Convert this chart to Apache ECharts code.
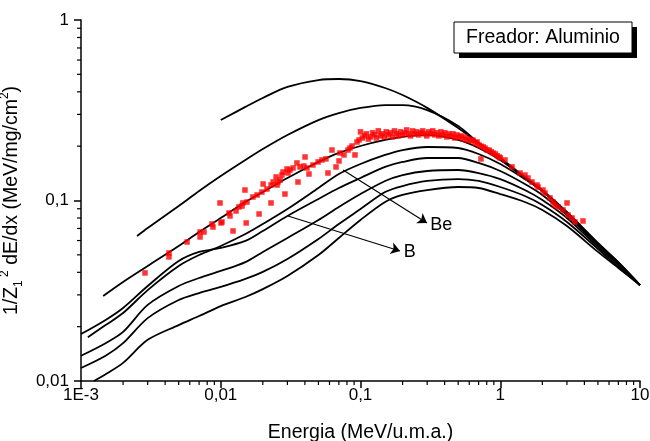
<!DOCTYPE html>
<html><head><meta charset="utf-8">
<script src="https://cdn.jsdelivr.net/npm/echarts@6/dist/echarts.min.js"></script>
<style>html,body{margin:0;padding:0;background:#fff}#c{width:650px;height:441px}</style>
</head><body><div id="c"></div>
<script>
// ---- axis ticks ----
const xTickLabels = ['1E-3', '0,01', '0,1', '1', '10'];   // exponents -3..1
const yTickLabels = ['0,01', '0,1', '1'];                // exponents -2..0
const X_MIN = 0.001, X_MAX = 10, Y_MIN = 0.01, Y_MAX = 1;

// ---- theoretical curves (energy MeV/u.m.a., 1/Z^2 dE/dx) ----
const curveA_E = [0.01,0.015,0.02,0.03,0.05,0.07,0.1,0.15,0.2,0.3,0.5,0.7,1,1.5,2,3,5,7,10];
const curveA_S = [0.279,0.330,0.370,0.426,0.465,0.471,0.459,0.420,0.384,0.326,0.252,0.208,0.172,0.135,0.114,0.0864,0.0582,0.0456,0.034];

const curveB_E = [0.00252,0.003,0.005,0.007,0.01,0.015,0.02,0.03,0.05,0.07,0.1,0.15,0.2,0.3,0.5,0.7,1,1.5,2,3,5,7,10];
const curveB_S = [0.0636,0.0704,0.0932,0.1129,0.1367,0.1677,0.1929,0.2307,0.279,0.305,0.3255,0.338,0.338,0.317,0.259,0.208,0.170,0.134,0.113,0.0855,0.0578,0.0453,0.034];

const curveC_E = [0.00144,0.002,0.003,0.005,0.007,0.01,0.015,0.02,0.03,0.05,0.07,0.1,0.15,0.2,0.3,0.5,0.7,1,1.5,2,3,5,7,10];
const curveC_S = [0.0296,0.0354,0.0434,0.056,0.0669,0.080,0.0981,0.1114,0.1333,0.1635,0.1834,0.2004,0.2164,0.2249,0.2307,0.2164,0.1954,0.1677,0.1333,0.1129,0.0853,0.0574,0.0451,0.034];

const curveD_E = [0.00112,0.0015,0.002,0.003,0.005,0.007,0.01,0.015,0.02,0.03,0.05,0.07,0.1,0.15,0.2,0.3,0.5,0.7,1,1.5,2,3,5,7,10];
const curveD_S = [0.0175,0.0204,0.0238,0.0319,0.0434,0.0499,0.0560,0.0652,0.0741,0.0897,0.1173,0.1402,0.1593,0.1788,0.1904,0.1979,0.1954,0.1810,0.1593,0.1315,0.1129,0.0853,0.0574,0.0451,0.034];

const curveE_E = [0.001,0.0015,0.002,0.003,0.005,0.007,0.01,0.015,0.02,0.03,0.05,0.07,0.1,0.15,0.2,0.3,0.5,0.7,1,1.5,2,3,5,7,10];
const curveE_S = [0.0182,0.0218,0.0254,0.0336,0.0462,0.0519,0.0546,0.0597,0.0678,0.0821,0.1020,0.1173,0.1333,0.1534,0.1635,0.1720,0.1720,0.1614,0.1457,0.1234,0.1073,0.0831,0.0567,0.0445,0.034];

const curveF_E = [0.001,0.0015,0.002,0.003,0.005,0.007,0.01,0.015,0.02,0.03,0.05,0.07,0.1,0.15,0.2,0.3,0.5,0.7,1,1.5,2,3,5,7,10];
const curveF_S = [0.0138,0.0162,0.0187,0.0264,0.0336,0.0372,0.0407,0.0456,0.0519,0.0620,0.0780,0.0921,0.1086,0.1283,0.1384,0.1457,0.1476,0.1420,0.1315,0.1143,0.1006,0.0800,0.0553,0.0439,0.034];

const curveG_E = [0.001,0.0015,0.002,0.003,0.005,0.007,0.01,0.015,0.02,0.03,0.05,0.07,0.1,0.15,0.2,0.3,0.5,0.7,1,1.5,2,3,5,7,10];
const curveG_S = [0.0118,0.0138,0.0162,0.0223,0.0281,0.0307,0.0332,0.0368,0.0402,0.0474,0.0612,0.0741,0.0897,0.1114,0.1203,0.1283,0.1315,0.1283,0.1188,0.1059,0.0944,0.0760,0.0539,0.0428,0.034];

const curveH_E = [0.00124,0.0015,0.002,0.003,0.005,0.007,0.01,0.015,0.02,0.03,0.05,0.07,0.1,0.15,0.2,0.3,0.5,0.7,1,1.5,2,3,5,7,10];
const curveH_S = [0.0100,0.0109,0.0126,0.0169,0.0204,0.0229,0.0260,0.0292,0.0323,0.0382,0.0499,0.0620,0.0780,0.0981,0.1073,0.1143,0.1188,0.1173,0.1086,0.0981,0.0886,0.0722,0.0519,0.0423,0.034];

// ---- experimental points ----
const expLow = [
 [0.00287,0.0397],[0.00426,0.0512],[0.00426,0.0487],[0.00574,0.0589],
 [0.00711,0.0669],[0.00711,0.0628],[0.00759,0.0669],[0.00866,0.0741],[0.0088,0.0713],
 [0.00988,0.0969],[0.0102,0.0760],[0.01004,0.0751],[0.01146,0.0853],[0.01165,0.0821],
 [0.01224,0.0678],[0.01286,0.0875],[0.0135,0.0921],[0.0142,0.0932],[0.0144,0.0969],
 [0.0149,0.1143],[0.0152,0.0751],[0.0154,0.0981],[0.0170,0.1046],[0.0182,0.1073],[0.0188,0.0842],
 [0.0197,0.1114],[0.0201,0.1234],[0.0214,0.1158],[0.0229,0.0969],[0.0229,0.1219],[0.0237,0.1266],
 [0.0249,0.1350],[0.0253,0.1219],[0.0257,0.1266],[0.0266,0.1299],[0.0274,0.1384],[0.0288,0.1086],
 [0.0279,0.1438],[0.0298,0.1495],[0.0303,0.1420],[0.0313,0.1476],[0.0329,0.1514],
 [0.0351,0.1614],[0.0357,0.1266],[0.0369,0.1534],[0.0394,0.1553],[0.0401,0.1742],[0.0414,0.1514],
 [0.0428,0.1402],[0.0457,0.1573],[0.0497,0.1635],[0.0530,0.1677],[0.0566,0.170],[0.0585,0.1420],
 [0.0625,0.1904],[0.0668,0.1534],[0.0702,0.1656],[0.0713,0.1834],[0.0762,0.1788],[0.0814,0.1904],
 [0.0841,0.1954],[0.0870,0.2004],[0.0913,0.1788],[0.0944,0.2109],[0.0976,0.2164]
];
const bandE = [0.100,0.103,0.107,0.110,0.114,0.118,0.122,0.126,0.130,0.134,
 0.139,0.143,0.148,0.153,0.158,0.164,0.169,0.175,0.181,0.187,
 0.193,0.200,0.207,0.214,0.221,0.228,0.236,0.244,0.252,0.261,
 0.270,0.279,0.288,0.298,0.308,0.318,0.329,0.340,0.352,0.364,
 0.376,0.389,0.402,0.415,0.429,0.444,0.459,0.474,0.490,0.507,
 0.524,0.541,0.560,0.579,0.598,0.618,0.639,0.661,0.683,0.706,
 0.730,0.755,0.780,0.806,0.834,0.862,0.891,0.921,0.952,0.984,1.0];
const bandS = [0.240,0.222,0.228,0.234,0.219,0.225,0.237,0.231,0.222,0.243,
 0.228,0.234,0.225,0.240,0.231,0.237,0.225,0.243,0.234,0.228,
 0.240,0.231,0.237,0.246,0.234,0.228,0.243,0.234,0.240,0.231,
 0.237,0.243,0.234,0.228,0.240,0.234,0.243,0.231,0.237,0.228,
 0.240,0.231,0.237,0.225,0.234,0.228,0.234,0.222,0.231,0.225,
 0.228,0.219,0.225,0.216,0.219,0.214,0.216,0.208,0.211,0.203,
 0.200,0.198,0.195,0.190,0.190,0.186,0.183,0.181,0.177,0.174,0.172];
const expHigh = [
 [0.728,0.170],[1.081,0.1677],[1.214,0.1534],[1.385,0.142],[1.503,0.1384],[1.580,0.1333],
 [1.688,0.1266],[1.832,0.1219],[1.863,0.1188],[2.022,0.1143],[2.090,0.1100],[2.270,0.1033],
 [2.385,0.0981],[2.465,0.0944],[2.590,0.0921],[2.812,0.0886],[3.004,0.0969],[3.054,0.0831],
 [3.262,0.0800],[3.427,0.0760],[3.909,0.0770]
];

// ---- annotations (arrow start/end in data units) ----
const arrowBe = [[0.075,0.1476],[0.299,0.0751]];
const arrowB  = [[0.0303,0.0821],[0.1917,0.0525]];
const legendText = 'Freador: Aluminio';

const FONT = '"Liberation Sans", Arial, sans-serif';
function zip(a,b){return a.map((v,i)=>[v,b[i]]);}
function lexp(v){return Math.round(Math.log10(v));}

const curves = [[curveA_E,curveA_S],[curveB_E,curveB_S],[curveC_E,curveC_S],[curveD_E,curveD_S],
  [curveE_E,curveE_S],[curveF_E,curveF_S],[curveG_E,curveG_S],[curveH_E,curveH_S]];

const mult = [2,3,4,5,6,7,8,9];
const xMinor = []; [0.001,0.01,0.1,1].forEach(d=>mult.forEach(m=>xMinor.push(d*m)));
const yMinor = []; [0.01,0.1].forEach(d=>mult.forEach(m=>yMinor.push(d*m)));

const series = curves.map((c,i)=>({
  name:'c'+i, type:'line', data:zip(c[0],c[1]), symbol:'none', showSymbol:false,
  smooth:0.3, lineStyle:{color:'#000', width:1.8}, silent:true, z:2
}));
series[7].markLine = {
  silent:true, symbol:['none','arrow'], symbolSize:9,
  lineStyle:{color:'#000', width:1.2, type:'solid'},
  label:{show:true, position:'end', formatter:p=>p.name, color:'#000', fontSize:18, fontFamily:FONT, distance:4},
  data:[
    [{name:'Be', coord:arrowBe[0]},{coord:arrowBe[1]}],
    [{name:'B', coord:arrowB[0]},{coord:arrowB[1]}]
  ]
};
series.push({
  type:'scatter', data:expLow.concat(zip(bandE,bandS)).concat(expHigh),
  symbol:'rect', symbolSize:5.5, itemStyle:{color:'#ff0000'}, silent:true, z:4
});
series.push({
  type:'custom', silent:true, clip:false, z:5,
  data:xMinor.map(v=>[v,Y_MIN]),
  renderItem:(params,api)=>{const p=api.coord([api.value(0),api.value(1)]);
    return {type:'line', shape:{x1:p[0],y1:p[1],x2:p[0],y2:p[1]+4}, style:{stroke:'#000',lineWidth:1.2}};}
});
series.push({
  type:'custom', silent:true, clip:false, z:5,
  data:yMinor.map(v=>[X_MIN,v]),
  renderItem:(params,api)=>{const p=api.coord([api.value(0),api.value(1)]);
    return {type:'line', shape:{x1:p[0]-4,y1:p[1],x2:p[0],y2:p[1]}, style:{stroke:'#000',lineWidth:1.2}};}
});

const chart = echarts.init(document.getElementById('c'), null, {renderer:'canvas'});
chart.setOption({
  animation:false,
  backgroundColor:'#fff',
  grid:{left:81, right:10, top:20, bottom:60, containLabel:false, outerBoundsMode:'none'},
  xAxis:{
    type:'log', logBase:10, min:X_MIN, max:X_MAX,
    axisLine:{lineStyle:{color:'#000', width:1.5}},
    axisTick:{show:true, inside:false, length:7, lineStyle:{color:'#000', width:1.5}},
    splitLine:{show:false},
    axisLabel:{color:'#000', fontSize:17, fontFamily:FONT, margin:6,
      formatter:v=>xTickLabels[lexp(v)+3]},
    name:'Energia (MeV/u.m.a.)', nameLocation:'middle', nameGap:42,
    nameTextStyle:{color:'#000', fontSize:19.5, fontFamily:FONT}
  },
  yAxis:{
    type:'log', logBase:10, min:Y_MIN, max:Y_MAX,
    axisLine:{lineStyle:{color:'#000', width:1.5}},
    axisTick:{show:true, inside:false, length:7, lineStyle:{color:'#000', width:1.5}},
    splitLine:{show:false},
    axisLabel:{color:'#000', fontSize:17, fontFamily:FONT, margin:12,
      formatter:v=>yTickLabels[lexp(v)+2]},
    name:'1/Z{sub|1}{sup| 2} dE/dx (MeV/mg/cm{sup|2})', nameLocation:'middle', nameGap:44,
    nameTextStyle:{color:'#000', fontSize:19.5, fontFamily:FONT, lineHeight:26,
      rich:{
        sub:{fontSize:12, fontFamily:FONT, color:'#000', verticalAlign:'bottom', lineHeight:26},
        sup:{fontSize:12, fontFamily:FONT, color:'#000', verticalAlign:'top', lineHeight:26}
      }}
  },
  graphic:[
    {type:'rect', shape:{x:459,y:27,width:178,height:31}, style:{fill:'#000'}, z:10},
    {type:'rect', shape:{x:454,y:22,width:178,height:31}, style:{fill:'#fff', stroke:'#000', lineWidth:1}, z:11},
    {type:'text', x:543, y:38, z:12, style:{text:legendText, font:'19.5px "Liberation Sans", Arial, sans-serif', fill:'#000', align:'center', verticalAlign:'middle'}}
  ],
  series:series
});
</script></body></html>
